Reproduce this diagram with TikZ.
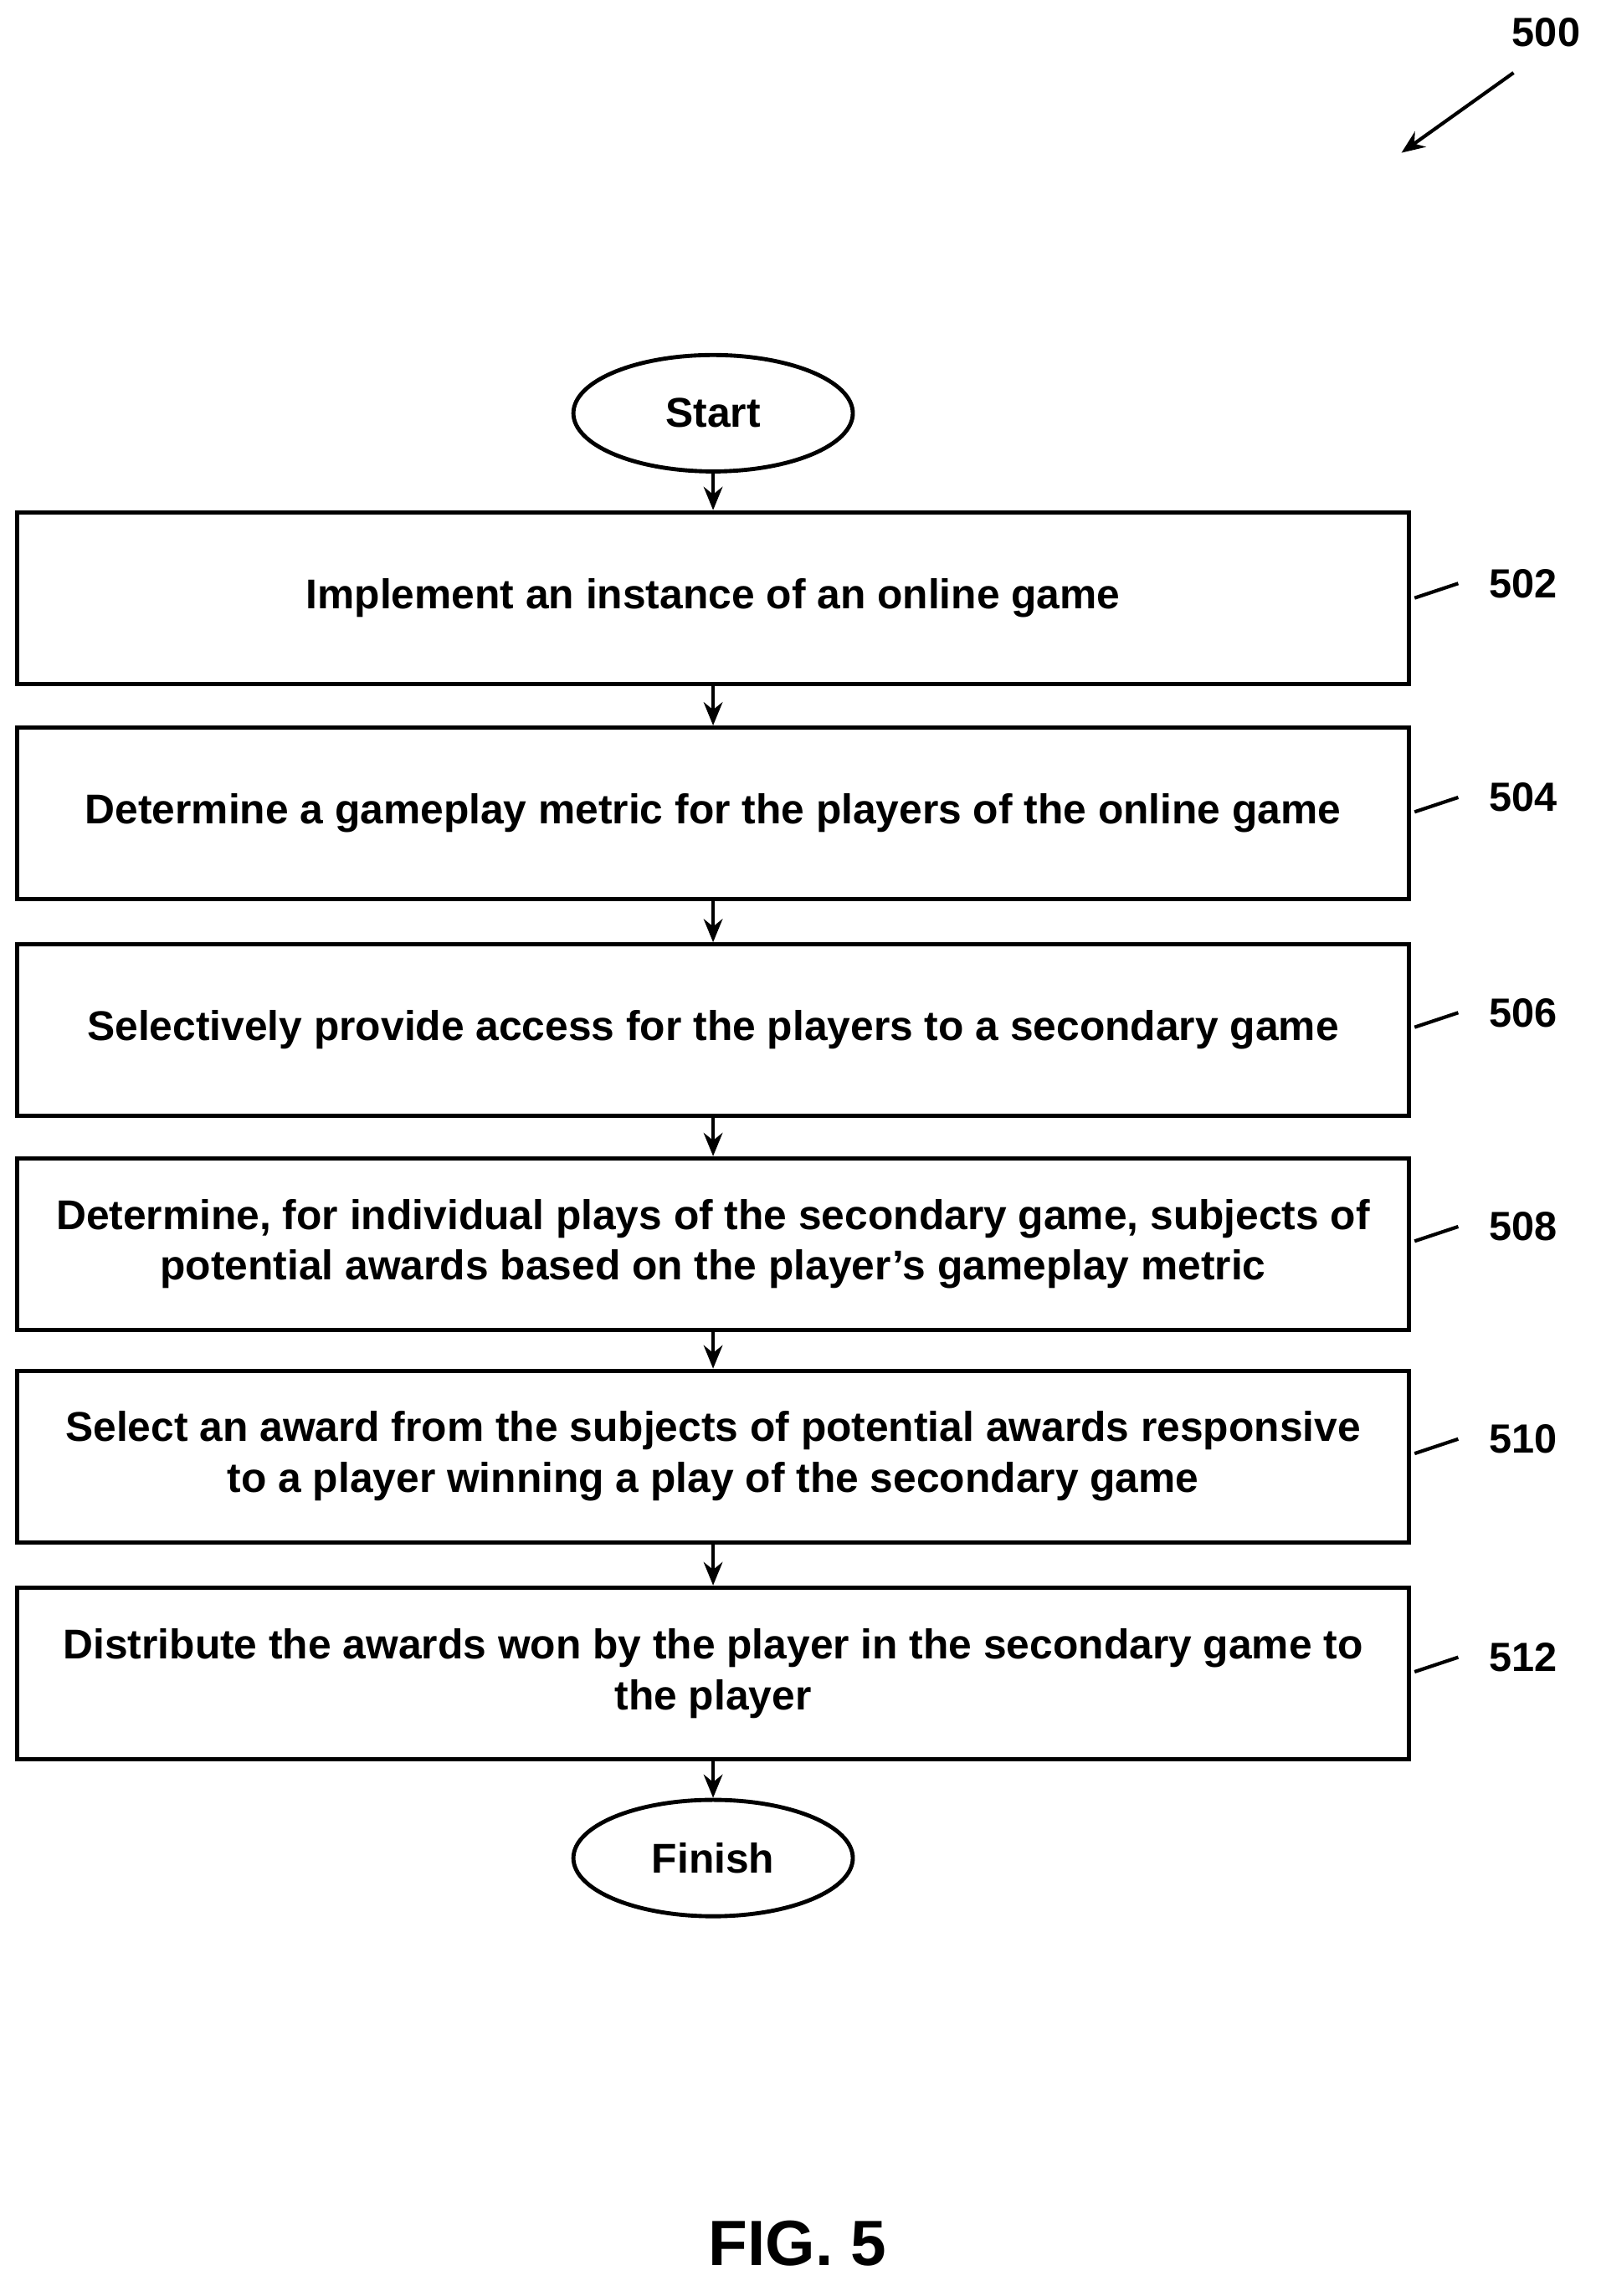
\documentclass[tikz,border=0pt]{standalone}
\usepackage{fontspec}
\setmainfont{Liberation Sans}
\usetikzlibrary{shapes.geometric,arrows.meta}
\begin{document}
\begin{tikzpicture}[x=0.5pt,y=-0.5pt,
  box/.style={draw,line width=1.4pt,minimum width=478pt,minimum height=59pt,align=center,font=\fontsize{14.3}{17.5}\selectfont\bfseries,inner sep=0pt},
  term/.style={draw,ellipse,line width=1.4pt,minimum width=96pt,minimum height=40pt,font=\fontsize{14.3}{16}\selectfont\bfseries,inner sep=0pt},
  lbl/.style={font=\fontsize{14}{16}\selectfont\bfseries,anchor=west},
  arr/.style={-{Stealth[length=8pt,width=6.5pt]},line width=1.2pt}]
\useasboundingbox (0,0) rectangle (1100,1578);
\node[term] (s) at (490,284) {Start};
\node[box] (b1) at (490,411) {Implement an instance of an online game};
\node[box] (b2) at (490,559) {Determine a gameplay metric for the players of the online game};
\node[box] (b3) at (490,708) {Selectively provide access for the players to a secondary game};
\node[box] (b4) at (490,855) {Determine, for individual plays of the secondary game, subjects of\\potential awards based on the player’s gameplay metric};
\node[box] (b5) at (490,1001) {Select an award from the subjects of potential awards responsive\\to a player winning a play of the secondary game};
\node[box] (b6) at (490,1150) {Distribute the awards won by the player in the secondary game to\\the player};
\node[term] (f) at (490,1277) {Finish};
\draw[arr] (s) -- (b1);
\draw[arr] (b1) -- (b2);
\draw[arr] (b2) -- (b3);
\draw[arr] (b3) -- (b4);
\draw[arr] (b4) -- (b5);
\draw[arr] (b5) -- (b6);
\draw[arr] (b6) -- (f);
\foreach \n/\y/\t in {1/401/502,2/548/504,3/696/506,4/843/508,5/989/510,6/1139/512}{
  \coordinate (p\n) at (972,\y+10);
  \node[lbl] (l\n) at (1016,\y) {\t};
  \draw[line width=1.2pt] (p\n) -- (1002,\y);
}
\node[lbl] (l0) at (1032,22) {500};
\coordinate (a0) at (1040,50);
\coordinate (a1) at (963,105);
\draw[arr] (a0) -- (a1);
\node[font=\fontsize{22}{24}\selectfont\bfseries] (fig) at (548,1542) {FIG. 5};
\end{tikzpicture}
\end{document}
